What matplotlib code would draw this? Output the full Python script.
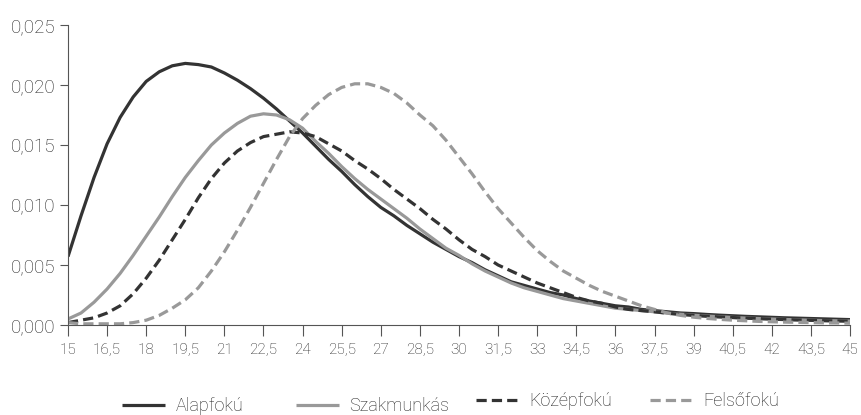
import matplotlib
matplotlib.use("Agg")
import matplotlib.pyplot as plt
import numpy as np

plt.rcParams['font.family'] = ['Roboto', 'DejaVu Sans']
plt.rcParams['font.weight'] = 'light'

# x values (age), step 0.5
kor = np.arange(15, 45.01, 0.5)

alapfoku = [0.0057, 0.0091, 0.0123, 0.0151, 0.0173, 0.0190, 0.0203, 0.0211, 0.0216, 0.0218,
            0.0217, 0.0215, 0.0210, 0.0204, 0.0197, 0.0189, 0.0180, 0.0170, 0.0160, 0.0149,
            0.0138, 0.0128, 0.0117, 0.0107, 0.0098, 0.0091, 0.0083, 0.0076, 0.0069, 0.0063,
            0.0057, 0.0052, 0.0046, 0.0041, 0.0036, 0.0033, 0.0030, 0.0027, 0.0025, 0.0022,
            0.0020, 0.0018, 0.0016, 0.0015, 0.0013, 0.0012, 0.0011, 0.0010, 0.00095, 0.00088,
            0.00082, 0.00077, 0.00072, 0.00068, 0.00064, 0.00060, 0.00057, 0.00054, 0.00051, 0.00048,
            0.00045]

szakmunkas = [0.0005, 0.0010, 0.0019, 0.0030, 0.0043, 0.0058, 0.0074, 0.0090, 0.0107, 0.0123,
              0.0137, 0.0150, 0.0160, 0.0168, 0.0174, 0.0176, 0.0175, 0.0171, 0.0164, 0.0153,
              0.0143, 0.0132, 0.0122, 0.0113, 0.0105, 0.0097, 0.0089, 0.0080, 0.0072, 0.0064,
              0.0058, 0.0051, 0.0045, 0.0040, 0.0035, 0.0031, 0.0028, 0.0025, 0.0022, 0.0020,
              0.0018, 0.0016, 0.0014, 0.0013, 0.0012, 0.0011, 0.00098, 0.00090, 0.00082, 0.00075,
              0.00069, 0.00063, 0.00058, 0.00054, 0.00050, 0.00046, 0.00043, 0.00040, 0.00037, 0.00035,
              0.00033]

kozepfoku = [0.0002, 0.0004, 0.0006, 0.0010, 0.0016, 0.0026, 0.0039, 0.0054, 0.0071, 0.0088,
             0.0106, 0.0122, 0.0135, 0.0145, 0.0152, 0.0157, 0.0159, 0.0161, 0.0160, 0.0157,
             0.0151, 0.0145, 0.0137, 0.0130, 0.0122, 0.0113, 0.0105, 0.0097, 0.0088, 0.0080,
             0.0071, 0.0063, 0.0057, 0.0050, 0.0045, 0.0040, 0.0035, 0.0031, 0.0027, 0.0023,
             0.0020, 0.0018, 0.0015, 0.0013, 0.0012, 0.0011, 0.00098, 0.00088, 0.00080, 0.00073,
             0.00067, 0.00062, 0.00057, 0.00053, 0.00049, 0.00045, 0.00042, 0.00039, 0.00036, 0.00034,
             0.00032]

felsofoku = [0.0002, 0.0001, 0.0001, 0.0001, 0.0001, 0.0002, 0.0004, 0.0008, 0.0014, 0.0021,
             0.0031, 0.0045, 0.0061, 0.0079, 0.0098, 0.0118, 0.0138, 0.0157, 0.0172, 0.0183,
             0.0192, 0.0198, 0.0201, 0.0201, 0.0198, 0.0193, 0.0185, 0.0175, 0.0166, 0.0154,
             0.0140, 0.0126, 0.0111, 0.0097, 0.0085, 0.0073, 0.0062, 0.0053, 0.0045, 0.0039,
             0.0033, 0.0028, 0.0024, 0.0020, 0.0016, 0.0013, 0.0010, 0.0008, 0.00065, 0.00055,
             0.00047, 0.00040, 0.00035, 0.00030, 0.00027, 0.00024, 0.00022, 0.00020, 0.00018, 0.00017,
             0.00015]

nevek = ["Alapfokú", "Szakmunkás", "Középfokú", "Felsőfokú"]

x_ticks = np.arange(15, 45.01, 1.5)
x_ticklabels = [("%g" % t).replace(".", ",") for t in x_ticks]
y_ticks = [0.0, 0.005, 0.010, 0.015, 0.020, 0.025]
y_ticklabels = ["0,000", "0,005", "0,010", "0,015", "0,020", "0,025"]

sotet = '#333333'
vilagos = '#999999'
txt = '#222222'

fig = plt.figure(figsize=(8.62, 4.15), dpi=100)
ax = fig.add_axes([68 / 862, 1 - 325 / 415, (850 - 68) / 862, 300 / 415])

l1, = ax.plot(kor, alapfoku, color=sotet, lw=2.3, solid_capstyle='butt')
l2, = ax.plot(kor, szakmunkas, color=vilagos, lw=2.3, solid_capstyle='butt')
l3, = ax.plot(kor, kozepfoku, color=sotet, lw=2.3, dashes=(3.2, 1.6))
l4, = ax.plot(kor, felsofoku, color=vilagos, lw=2.3, dashes=(3.2, 1.6))

ax.set_xlim(15, 45)
ax.set_ylim(0, 0.025)
ax.set_xticks(x_ticks)
ax.set_xticklabels(x_ticklabels, fontsize=11, color=txt)
ax.set_yticks(y_ticks)
ax.set_yticklabels(y_ticklabels, fontsize=13.5, color=txt)
ax.tick_params(axis='x', length=8, width=0.8, color='#555555', pad=5)
ax.tick_params(axis='y', length=6, width=0.8, color='#555555', pad=3)

for s in ['top', 'right']:
    ax.spines[s].set_visible(False)
for s in ['left', 'bottom']:
    ax.spines[s].set_color('#555555')
    ax.spines[s].set_linewidth(0.8)

# legend entries, one by one (columns like the original)
leg_x = [122 / 862, 296 / 862, 476 / 862, 650 / 862]
leg_y = [1 - 406 / 415, 1 - 406 / 415, 1 - 401 / 415, 1 - 401 / 415]
for h, n, lx, ly in zip([l1, l2, l3, l4], nevek, leg_x, leg_y):
    lg = fig.legend([h], [n], loc='center left', bbox_to_anchor=(lx, ly), frameon=False,
                    fontsize=13, handlelength=2.4, handletextpad=0.55, borderpad=0, borderaxespad=0)
    for t in lg.get_texts():
        t.set_color(txt)

fig.savefig("out.png", dpi=100)
